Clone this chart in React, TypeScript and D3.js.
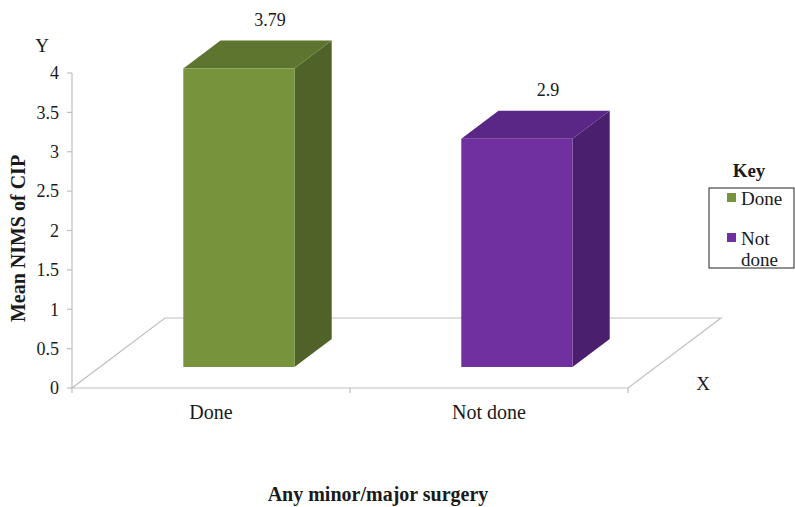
import React from "react";
import * as d3 from "d3";

const categories = ["Done", "Not done"];
const values = [3.79, 2.9];
const valueLabels = ["3.79", "2.9"];
const yTicks = [0, 0.5, 1, 1.5, 2, 2.5, 3, 3.5, 4];
const frontColors = ["#77933C", "#7030A0"];
const sideColors = ["#4F6228", "#4A1F6D"];
const topColors = ["#5E752F", "#5A2787"];

const W = 795, H = 507;
const x0 = 72, x1 = 628, yBase = 388, yTop = 73;
const depth = { dx: 93, dy: -70 };
const dFront = 0.3, dBack = 0.7;
const font = "Liberation Serif, Times New Roman, serif";

export default function App() {
  const x = d3.scaleBand<string>().domain(categories).range([x0, x1]).paddingInner(0.6).paddingOuter(0.3);
  const y = d3.scaleLinear().domain([0, 4]).range([yBase, yTop]);
  const step = x.step();
  const pt = (px: number, py: number, d: number) => [px + depth.dx * d, py + depth.dy * d];
  const poly = (pts: number[][]) => pts.map(p => p.join(",")).join(" ");

  const floor = [pt(x0, yBase, 0), pt(x1, yBase, 0), pt(x1, yBase, 1), pt(x0, yBase, 1)];
  const txt = { fontFamily: font, fill: "#1a1a1a" } as const;

  return (
    <div style={{ position: "fixed", left: 0, top: 0 }}>
      <svg width={W} height={H} style={{ display: "block", background: "#fff" }}>
        <polygon points={poly(floor)} fill="none" stroke="#BFBFBF" strokeWidth={1.2} />
        <line x1={x0} x2={x0} y1={y(4)} y2={y(0)} stroke="#BFBFBF" strokeWidth={1.2} />
        {yTicks.map(t => (
          <g key={t}>
            <line x1={x0 - 5} x2={x0} y1={y(t)} y2={y(t)} stroke="#BFBFBF" strokeWidth={1.2} />
            <text x={59} y={y(t)} dy="0.35em" textAnchor="end" fontSize={18} {...txt}>{t}</text>
          </g>
        ))}
        {[0, 1, 2].map(i => (
          <line key={i} x1={x0 + step * i} x2={x0 + step * i} y1={yBase} y2={yBase + 5} stroke="#BFBFBF" strokeWidth={1.2} />
        ))}
        {categories.map((c, i) => {
          const bx = x(c)!;
          const bw = x.bandwidth();
          const yv = y(values[i]);
          const fl = pt(bx, yBase, dFront), fr = pt(bx + bw, yBase, dFront);
          const tl = pt(bx, yv, dFront), tr = pt(bx + bw, yv, dFront);
          const btl = pt(bx, yv, dBack), btr = pt(bx + bw, yv, dBack);
          const bbr = pt(bx + bw, yBase, dBack);
          const lab = pt(bx + bw / 2, yv, dBack);
          return (
            <g key={c}>
              <polygon points={poly([tr, btr, bbr, fr])} fill={sideColors[i]} />
              <polygon points={poly([tl, tr, btr, btl])} fill={topColors[i]} />
              <polygon points={poly([fl, fr, tr, tl])} fill={frontColors[i]} />
              <text x={lab[0] - 6} y={lab[1] - 15} textAnchor="middle" fontSize={18} {...txt}>{valueLabels[i]}</text>
              <text x={bx + bw / 2} y={412} dy="0.35em" textAnchor="middle" fontSize={20} {...txt}>{c}</text>
            </g>
          );
        })}
        <text x={42} y={45} dy="0.35em" textAnchor="middle" fontSize={19} {...txt}>Y</text>
        <text x={703} y={383} dy="0.35em" textAnchor="middle" fontSize={19} {...txt}>X</text>
        <text transform={`translate(18,${(y(0) + y(4)) / 2 + 8}) rotate(-90)`} dy="0.35em" textAnchor="middle" fontSize={20} fontWeight="bold" {...txt}>Mean NIMS of CIP</text>
        <text x={378} y={494} dy="0.35em" textAnchor="middle" fontSize={20} fontWeight="bold" {...txt}>Any minor/major surgery</text>
        <text x={749} y={170} dy="0.35em" textAnchor="middle" fontSize={19} fontWeight="bold" {...txt}>Key</text>
        <rect x={709} y={188} width={85} height={80} fill="none" stroke="#222" strokeWidth={1} />
        {categories.map((c, i) => (
          <g key={c}>
            <rect x={727} y={193 + i * 40} width={9} height={9} fill={frontColors[i]} />
            {i === 0 ? (
              <text x={741} y={198} dy="0.35em" fontSize={19} {...txt}>{c}</text>
            ) : (
              <text x={741} y={238} dy="0.35em" fontSize={19} {...txt}>
                <tspan x={741}>Not</tspan>
                <tspan x={741} dy={21}>done</tspan>
              </text>
            )}
          </g>
        ))}
      </svg>
    </div>
  );
}
